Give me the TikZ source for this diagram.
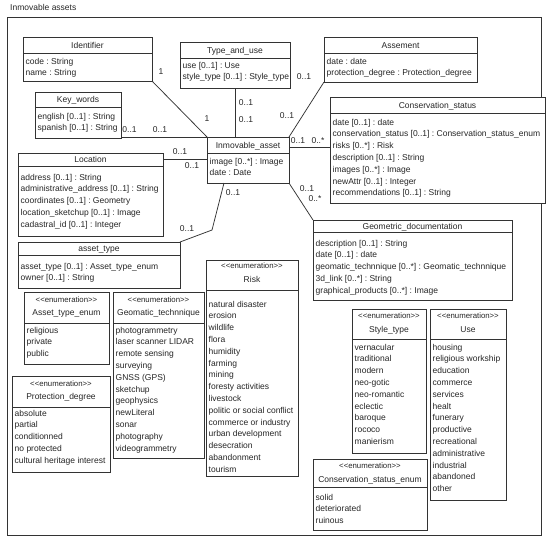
\documentclass[tikz,border=0pt]{standalone}
\usepackage{fontspec}
\setmainfont{Liberation Sans}
\definecolor{lc}{HTML}{333333}
\definecolor{tc}{HTML}{262626}
\tikzset{
  box/.style={draw=lc, fill=white, line width=0.9pt, inner sep=0pt, outer sep=0pt},
  sepl/.style={draw=lc, line width=0.9pt},
  conn/.style={draw=lc, line width=0.75pt},
  ttl/.style={font=\fontsize{8.5}{10}\selectfont, text=tc, inner sep=0pt, anchor=base},
  stereo/.style={font=\fontsize{7.8}{9}\selectfont, text=tc, inner sep=0pt, anchor=base},
  att/.style={font=\fontsize{8.5}{10}\selectfont, text=tc, inner sep=0pt, anchor=base west},
  mult/.style={font=\fontsize{8.5}{10}\selectfont, text=tc, inner sep=0pt},
  pkg/.style={font=\fontsize{8.5}{10}\selectfont, text=tc, inner sep=0pt, anchor=base west}
}
% name, x1, y1, x2, y2, separator y, title centre y, title
\newcommand{\umlclass}[8]{%
  \node[box, anchor=north west, minimum width={(#4-#2)*1pt}, minimum height={(#5-#3)*1pt}] (#1) at (#2,#3) {};
  \draw[sepl] (#2,#6) -- (#4,#6);
  \node[ttl] (#1-t) at ({(#2+#4)/2},{#7+3}) {#8};}
% name, x1, y1, x2, y2, separator y, stereotype y, name y, title
\newcommand{\umlenum}[9]{%
  \node[box, anchor=north west, minimum width={(#4-#2)*1pt}, minimum height={(#5-#3)*1pt}] (#1) at (#2,#3) {};
  \draw[sepl] (#2,#6) -- (#4,#6);
  \node[stereo] (#1-s) at ({(#2+#4)/2},{#7+2.7}) {<{}<enumeration>{}>};
  \node[ttl] (#1-t) at ({(#2+#4)/2},{#8+3}) {#9};}
% name, x1, first line centre y, items
\newcommand{\umlattrs}[4]{%
  \foreach \txt [count=\i] in {#4} {\node[att] (#1-a\i) at (#2+2.5,{#3+3+(\i-1)*11.8}) {\txt};}}
\begin{document}
\frenchspacing
\begin{tikzpicture}[x=1pt,y=-1pt]
\useasboundingbox (0,0) rectangle (550,542);
\node[pkg] (pkgname) at (10,10) {Inmovable assets};
\node[draw=lc, line width=0.9pt, anchor=north west, minimum width=534pt, minimum height=518pt, inner sep=0pt, outer sep=0pt] (frame) at (7,17) {};

% classes
\umlclass{identifier}{23}{37}{152}{81}{53}{45}{Identifier}
\umlattrs{identifier}{23}{61}{code : String, name : String}

\umlclass{keywords}{35}{92}{121}{138}{107}{99.5}{Key\_words}
\umlattrs{keywords}{35}{116}{english [0..1] : String, spanish [0..1] : String}

\umlclass{typeuse}{180}{42}{290}{88}{58}{50}{Type\_and\_use}
\umlattrs{typeuse}{180}{65}{use [0..1] : Use, style\_type [0..1] : Style\_type}

\umlclass{assement}{324}{37}{477}{82}{53}{45}{Assement}
\umlattrs{assement}{324}{61}{date : date, protection\_degree : Protection\_degree}

\umlclass{cons}{330}{97}{545}{203}{113}{105}{Conservation\_status}
\umlattrs{cons}{330}{122}{date [0..1] : date, conservation\_status [0..1] : Conservation\_status\_enum, risks [0..*] : Risk, description [0..1] : String, images [0..*] : Image, newAttr [0..1] : Integer, recommendations [0..1] : String}

\umlclass{asset}{207}{137}{289}{183}{153}{145}{Inmovable\_asset}
\umlattrs{asset}{207}{161}{image [0..*] : Image, date : Date}

\umlclass{location}{18}{153}{163}{236}{166}{159.5}{Location}
\umlattrs{location}{18}{177}{address [0..1] : String, administrative\_address [0..1] : String, coordinates [0..1] : Geometry, location\_sketchup [0..1] : Image, cadastral\_id [0..1] : Integer}

\umlclass{assettype}{18}{242}{180}{288}{255}{248.5}{asset\_type}
\umlattrs{assettype}{18}{266}{asset\_type [0..1] : Asset\_type\_enum, owner [0..1] : String}

\umlclass{geodoc}{313}{220}{512}{300}{232}{226}{Geometric\_documentation}
\umlattrs{geodoc}{313}{243}{description [0..1] : String, date [0..1] : date, geomatic\_technnique [0..*] : Geomatic\_technnique, 3d\_link [0..*] : String, graphical\_products [0..*] : Image}

% enumerations
\umlenum{atenum}{24}{292}{109}{364}{323}{300}{312}{Asset\_type\_enum}
\umlattrs{atenum}{24}{330}{religious, private, public}

\umlenum{geomt}{113}{292}{204}{458}{323}{300}{312}{Geomatic\_technnique}
\umlattrs{geomt}{113}{330}{photogrammetry, laser scanner LIDAR, remote sensing, surveying, GNSS (GPS), sketchup, geophysics, newLiteral, sonar, photography, videogrammetry}

\umlenum{protdeg}{12}{376}{110}{472}{407}{384}{396}{Protection\_degree}
\umlattrs{protdeg}{12}{413}{absolute, partial, conditionned, no protected, cultural heritage interest}

\umlenum{risk}{206}{260}{298}{476}{290}{266}{279}{Risk}
\umlattrs{risk}{206}{304}{natural disaster, erosion, wildlife, flora, humidity, farming, mining, foresty activities, livestock, politic or social conflict, commerce or industry, urban development, desecration, abandonment, tourism}

\umlenum{style}{352}{309}{426}{453}{339}{316}{329}{Style\_type}
\umlattrs{style}{352}{347}{vernacular, traditional, modern, neo-gotic, neo-romantic, eclectic, baroque, rococo, manierism}

\umlenum{use}{430}{309}{506}{500}{339}{316}{329}{Use}
\umlattrs{use}{430}{347}{housing, religious workship, education, commerce, services, healt, funerary, productive, recreational, administrative, industrial, abandoned, other}

\umlenum{csenum}{313}{459}{427}{530}{487}{466}{479}{Conservation\_status\_enum}
\umlattrs{csenum}{313}{497}{solid, deteriorated, ruinous}

% connectors
\draw[conn] (identifier.south east) -- (asset.north west);
\draw[conn] (keywords.east |- asset.north west) -- (asset.north west);
\draw[conn] (typeuse.south) -- (typeuse.south |- asset.north);
\draw[conn] (assement.south west) -- (asset.north east);
\draw[conn] ([yshift=-10pt]asset.north east) coordinate (cs1) -- (cs1 -| cons.west);
\draw[conn] (asset.south east) -- (geodoc.north west);
\draw[conn] ([yshift=-6pt]location.north east) coordinate (lo1) -- (lo1 -| asset.west);
\coordinate (bend) at (212,230);
\draw[conn] ([xshift=17pt]asset.south west) -- (bend) -- (assettype.north east);

% multiplicities
\node[mult] (m1) at (161,72) {1};
\node[mult] (m2) at (207,119) {1};
\node[mult] (m3) at (129.5,130) {0..1};
\node[mult] (m4) at (160,130) {0..1};
\node[mult] (m5) at (246,103) {0..1};
\node[mult] (m6) at (246,120) {0..1};
\node[mult] (m7) at (304,77) {0..1};
\node[mult] (m8) at (287,116) {0..1};
\node[mult] (m9) at (298,141) {0..1};
\node[mult] (m10) at (318,141) {0..*};
\node[mult] (m11) at (307,189) {0..1};
\node[mult] (m12) at (315,199) {0..*};
\node[mult] (m13) at (180,152) {0..1};
\node[mult] (m14) at (192,166) {0..1};
\node[mult] (m15) at (233,193) {0..1};
\node[mult] (m16) at (187,229) {0..1};
\end{tikzpicture}
\end{document}
